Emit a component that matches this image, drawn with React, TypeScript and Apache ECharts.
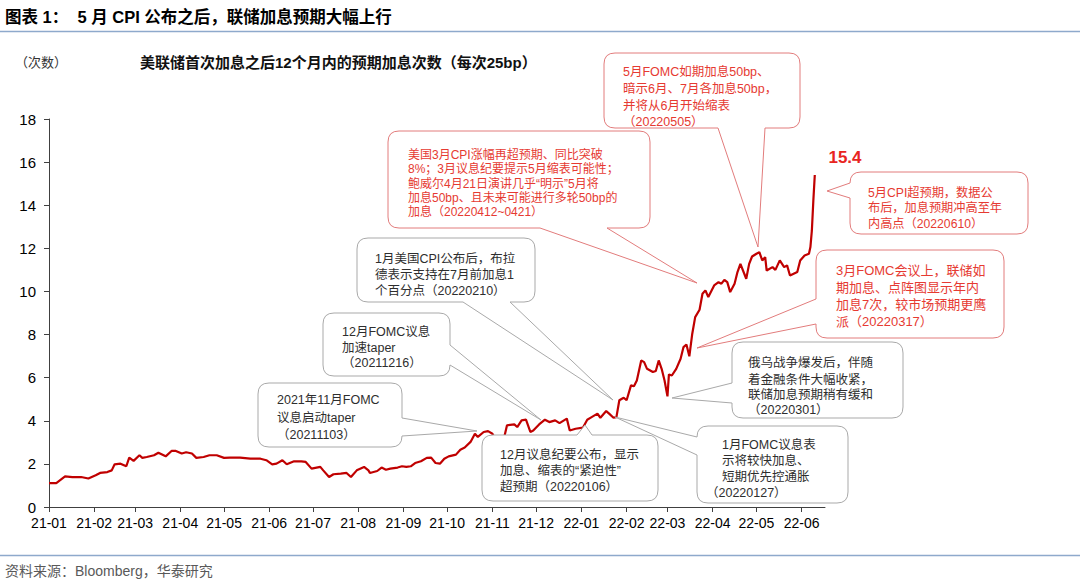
import React, { useEffect, useRef } from 'react';
import * as echarts from 'echarts';

// ---------- data ----------
const dates: string[] = [
  '2021-01-01','2021-01-06','2021-01-12','2021-01-17','2021-01-23','2021-01-28','2021-02-02','2021-02-05','2021-02-10','2021-02-13',
  '2021-02-15','2021-02-19','2021-02-23','2021-02-25','2021-02-28','2021-03-04','2021-03-06','2021-03-09','2021-03-14','2021-03-17',
  '2021-03-22','2021-03-26','2021-03-29','2021-04-02','2021-04-05','2021-04-09','2021-04-12','2021-04-17','2021-04-21','2021-04-26',
  '2021-05-01','2021-05-05','2021-05-12','2021-05-19','2021-05-26','2021-05-30','2021-06-03','2021-06-06','2021-06-10','2021-06-13',
  '2021-06-18','2021-06-23','2021-06-26','2021-06-30','2021-07-06','2021-07-08','2021-07-12','2021-07-15','2021-07-20','2021-07-24',
  '2021-07-27','2021-07-31','2021-08-05','2021-08-08','2021-08-09','2021-08-14','2021-08-17','2021-08-20','2021-08-23','2021-08-28',
  '2021-08-31','2021-09-03','2021-09-06','2021-09-09','2021-09-13','2021-09-17','2021-09-20','2021-09-23','2021-09-26','2021-09-29',
  '2021-10-02','2021-10-07','2021-10-10','2021-10-13','2021-10-17','2021-10-20','2021-10-22','2021-10-26','2021-10-29','2021-11-01',
  '2021-11-04','2021-11-06','2021-11-09','2021-11-11','2021-11-16','2021-11-18','2021-11-21','2021-11-24','2021-11-27','2021-11-29',
  '2021-12-03','2021-12-07','2021-12-10','2021-12-14','2021-12-17','2021-12-22','2021-12-24','2021-12-28','2022-01-02','2022-01-05',
  '2022-01-08','2022-01-12','2022-01-14','2022-01-18','2022-01-20','2022-01-23','2022-01-25','2022-01-27','2022-01-30','2022-02-01',
  '2022-02-04','2022-02-06','2022-02-08','2022-02-11','2022-02-13','2022-02-15','2022-02-19','2022-02-21','2022-02-23','2022-02-25',
  '2022-02-27','2022-03-01','2022-03-02','2022-03-04','2022-03-07','2022-03-10','2022-03-12','2022-03-14','2022-03-16','2022-03-18',
  '2022-03-20','2022-03-23','2022-03-25','2022-03-27','2022-03-29','2022-04-02','2022-04-05','2022-04-07','2022-04-09','2022-04-11',
  '2022-04-13','2022-04-16','2022-04-18','2022-04-20','2022-04-24','2022-04-26','2022-04-28','2022-05-01','2022-05-03','2022-05-05',
  '2022-05-07','2022-05-08','2022-05-12','2022-05-14','2022-05-17','2022-05-20','2022-05-22','2022-05-24','2022-05-29','2022-05-31',
  '2022-06-03','2022-06-06','2022-06-07','2022-06-08','2022-06-09','2022-06-10',
];

const values: number[] = [
  1.11,1.11,1.42,1.39,1.39,1.32,1.47,1.58,1.62,1.70,
  1.98,2.01,1.89,2.29,2.14,2.40,2.28,2.32,2.40,2.52,
  2.35,2.60,2.60,2.48,2.54,2.48,2.28,2.32,2.40,2.40,
  2.28,2.29,2.29,2.24,2.24,2.17,1.98,2.01,2.17,1.98,
  2.12,2.12,2.09,1.78,1.86,1.70,1.39,1.52,1.55,1.58,
  1.39,1.70,1.86,1.70,1.58,1.67,1.83,1.73,1.78,1.83,
  1.89,1.86,1.89,2.04,2.12,2.28,2.29,2.04,2.01,2.24,
  2.35,2.43,2.66,2.76,3.02,3.40,3.25,3.48,3.52,3.40,
  3.01,3.17,3.21,3.79,3.83,3.71,4.02,4.05,3.48,3.55,
  3.83,4.05,3.94,4.02,3.89,4.10,3.55,3.63,3.68,4.05,
  4.17,4.33,4.14,4.45,4.33,4.14,4.17,4.95,5.07,4.95,
  5.64,5.60,5.87,6.80,6.72,6.41,6.26,6.31,6.80,6.41,
  5.87,5.13,6.15,6.10,6.41,6.88,7.42,7.54,6.99,8.04,
  8.81,9.15,9.89,10.05,9.74,10.28,10.43,10.36,10.54,10.43,
  9.97,10.36,10.90,11.28,10.59,11.28,11.62,11.75,11.82,11.44,
  11.59,10.97,11.13,11.00,11.44,11.13,11.21,10.74,10.90,11.44,
  11.67,11.75,12.06,12.83,14.20,15.40,
];

const monthTicks: string[] = [
  '2021-01-01','2021-02-01','2021-03-01','2021-04-01','2021-05-01','2021-06-01','2021-07-01','2021-08-01','2021-09-01',
  '2021-10-01','2021-11-01','2021-12-01','2022-01-01','2022-02-01','2022-03-01','2022-04-01','2022-05-01','2022-06-01',
];
const axisStart = '2021-01-01';
const axisEnd = '2022-06-17';

const titleText = '图表 1：  5 月 CPI 公布之后，联储加息预期大幅上行';
const unitText = '（次数）';
const subtitleText = '美联储首次加息之后12个月内的预期加息次数（每次25bp）';
const sourceText = '资料来源：Bloomberg，华泰研究';

// ---------- callouts (text + bubble geometry) ----------
type Callout = {
  lines: string[];
  red: boolean;
  box: [number, number, number, number];
  side: 'top' | 'bottom' | 'left' | 'right';
  base: [number, number];
  tip: [number, number];
  textX: number;
  lineY: number[];
  size?: number;
  lastX?: number;
};

const callouts: Callout[] = [
  { lines: ['5月FOMC如期加息50bp、', '暗示6月、7月各加息50bp，', '并将从6月开始缩表', '（20220505）'],
    red: true, box: [604, 53, 196, 75], side: 'bottom', base: [718, 765], tip: [758, 247], textX: 623, lineY: [72, 89, 106, 122] },
  { lines: ['美国3月CPI涨幅再超预期、同比突破', '8%；3月议息纪要提示5月缩表可能性；', '鲍威尔4月21日演讲几乎“明示”5月将', '加息50bp、且未来可能进行多轮50bp的', '加息（20220412~0421）'],
    red: true, box: [388, 131, 262, 97], side: 'bottom', base: [540, 607], tip: [697, 283], textX: 408, lineY: [155, 169, 184, 198, 212], size: 12 },
  { lines: ['5月CPI超预期，数据公', '布后，加息预期冲高至年', '内高点（20220610）'],
    red: true, box: [850, 172, 178, 62], side: 'left', base: [183, 198], tip: [827, 191], textX: 868, lineY: [193, 208, 224], size: 12.2 },
  { lines: ['3月FOMC会议上，联储如', '期加息、点阵图显示年内', '加息7次，较市场预期更鹰', '派（20220317）'],
    red: true, box: [816, 250, 188, 88], side: 'left', base: [299, 324], tip: [697, 348], textX: 836, lineY: [270, 287, 304, 321], size: 13 },
  { lines: ['1月美国CPI公布后，布拉', '德表示支持在7月前加息1', '个百分点（20220210）'],
    red: false, box: [357, 238, 178, 64], side: 'bottom', base: [463, 510], tip: [613, 400], textX: 375, lineY: [259, 275, 291] },
  { lines: ['12月FOMC议息', '加速taper', '（20211216）'],
    red: false, box: [323, 313, 127, 63], side: 'right', base: [345, 365], tip: [541, 420], textX: 342, lineY: [332, 348, 363] },
  { lines: ['2021年11月FOMC', '议息启动taper', '（20211103）'],
    red: false, box: [258, 383, 144, 64], side: 'right', base: [418, 436], tip: [477, 431], textX: 277, lineY: [400, 418, 435] },
  { lines: ['12月议息纪要公布，显示', '加息、缩表的“紧迫性”', '超预期（20220106）'],
    red: false, box: [482, 435, 176, 66], side: 'top', base: [577, 592], tip: [585, 425], textX: 500, lineY: [455, 471, 487] },
  { lines: ['俄乌战争爆发后，伴随', '着金融条件大幅收紧，', '联储加息预期稍有缓和', '（20220301）'],
    red: false, box: [732, 342, 171, 76], side: 'left', base: [383, 403], tip: [672, 398], textX: 748, lineY: [363, 380, 395, 410] },
  { lines: ['1月FOMC议息表', '示将较快加息、', '短期优先控通胀', '（20220127）'],
    red: false, box: [697, 426, 151, 77], side: 'left', base: [437, 455], tip: [615, 417], textX: 722, lineY: [445, 461, 477, 493], lastX: 706 },
];

const FONT = '"Liberation Sans", Arial, "Noto Sans CJK SC", sans-serif';
const RED_TEXT = '#E63A32';
const RED_BORDER = '#E27C7C';
const GRAY_TEXT = '#2E2E2E';
const GRAY_BORDER = '#A9A9A9';

const toTs = (s: string) => Date.parse(s + 'T00:00:00Z');
const fmtMonth = (v: number) => {
  const d = new Date(v);
  return String(d.getUTCFullYear()).slice(2) + '-' + String(d.getUTCMonth() + 1).padStart(2, '0');
};

function bubblePath(c: Callout): string {
  const [x, y, w, h] = c.box;
  const r = 11;
  const R = x + w;
  const B = y + h;
  const lo = Math.min(c.base[0], c.base[1]);
  const hi = Math.max(c.base[0], c.base[1]);
  const [tx, ty] = c.tip;
  let d = `M${x + r} ${y}`;
  if (c.side === 'top') d += ` L${lo} ${y} L${tx} ${ty} L${hi} ${y}`;
  d += ` L${R - r} ${y} Q${R} ${y} ${R} ${y + r}`;
  if (c.side === 'right') d += ` L${R} ${lo} L${tx} ${ty} L${R} ${hi}`;
  d += ` L${R} ${B - r} Q${R} ${B} ${R - r} ${B}`;
  if (c.side === 'bottom') d += ` L${hi} ${B} L${tx} ${ty} L${lo} ${B}`;
  d += ` L${x + r} ${B} Q${x} ${B} ${x} ${B - r}`;
  if (c.side === 'left') d += ` L${x} ${hi} L${tx} ${ty} L${x} ${lo}`;
  d += ` L${x} ${y + r} Q${x} ${y} ${x + r} ${y} Z`;
  return d;
}

function textEl(text: string, x: number, y: number, size: number, fill: string, weight: string = 'normal', align: string = 'left') {
  return {
    type: 'text',
    x,
    y,
    z: 120,
    style: {
      text,
      fill,
      fontSize: size,
      fontFamily: FONT,
      fontWeight: weight,
      align,
      textAlign: align,
      verticalAlign: 'middle',
      textVerticalAlign: 'middle',
    },
  };
}

export default function App() {
  const ref = useRef<HTMLDivElement>(null);

  useEffect(() => {
    if (!ref.current) return;
    const chart = echarts.init(ref.current, undefined, { renderer: 'svg' });

    const graphics: any[] = [];
    // title and rules
    graphics.push(textEl(titleText, 5, 17, 16.5, '#000000', 'bold'));
    graphics.push({ type: 'line', z: 100, shape: { x1: 0, y1: 31.5, x2: 1080, y2: 31.5 }, style: { stroke: '#8EA9CC', lineWidth: 1.5 } });
    graphics.push(textEl(unitText, 15, 62, 13, '#333333'));
    graphics.push(textEl(subtitleText, 140, 62, 15, '#111111', 'bold'));
    graphics.push({ type: 'line', z: 100, shape: { x1: 0, y1: 555.5, x2: 1080, y2: 555.5 }, style: { stroke: '#8EA9CC', lineWidth: 1.5 } });
    graphics.push(textEl(sourceText, 5, 571, 14, '#595959'));
    // last value label
    graphics.push(textEl(values[values.length - 1].toFixed(1), 845, 157, 17, '#E8251F', 'bold', 'center'));

    callouts.forEach((c, i) => {
      const name = 'bubble' + i;
      echarts.graphic.registerShape(name, echarts.graphic.extendPath(bubblePath(c), {}) as any);
      graphics.push({
        type: name,
        x: 0,
        y: 0,
        z: 110,
        style: { fill: '#ffffff', stroke: c.red ? RED_BORDER : GRAY_BORDER, lineWidth: 1 },
      });
      c.lines.forEach((ln, j) => {
        const isLast = j === c.lines.length - 1;
        const x = isLast && c.lastX !== undefined ? c.lastX : c.textX;
        graphics.push(textEl(ln, x, c.lineY[j], c.size ?? 12.5, c.red ? RED_TEXT : GRAY_TEXT));
      });
    });

    const tickVals = monthTicks.map(toTs);

    const option: any = {
      animation: false,
      textStyle: { fontFamily: FONT },
      grid: { left: 49, right: 255, top: 119, bottom: 76, containLabel: false },
      xAxis: {
        type: 'value',
        min: toTs(axisStart),
        max: toTs(axisEnd),
        axisLine: { show: true, lineStyle: { color: '#404040', width: 1 } },
        axisTick: { show: true, customValues: tickVals, length: 5, lineStyle: { color: '#404040' } },
        axisLabel: { customValues: tickVals, formatter: fmtMonth, color: '#000', fontSize: 14, margin: 9, hideOverlap: false },
        splitLine: { show: false },
      },
      yAxis: {
        type: 'value',
        min: 0,
        max: 18,
        interval: 2,
        axisLine: { show: true, lineStyle: { color: '#404040', width: 1 } },
        axisTick: { show: true, length: 5, lineStyle: { color: '#404040' } },
        axisLabel: { color: '#000', fontSize: 15, margin: 13 },
        splitLine: { show: false },
      },
      series: [
        {
          type: 'line',
          data: dates.map((d, i) => [toTs(d), values[i]]),
          showSymbol: false,
          symbol: 'none',
          lineStyle: { color: '#C00000', width: 2.2 },
          z: 2,
        },
      ],
      graphic: graphics,
    };

    chart.setOption(option);
    return () => chart.dispose();
  }, []);

  return (
    <div
      ref={ref}
      style={{ position: 'absolute', left: 0, top: 0, width: 1080, height: 583, background: '#ffffff' }}
    />
  );
}
